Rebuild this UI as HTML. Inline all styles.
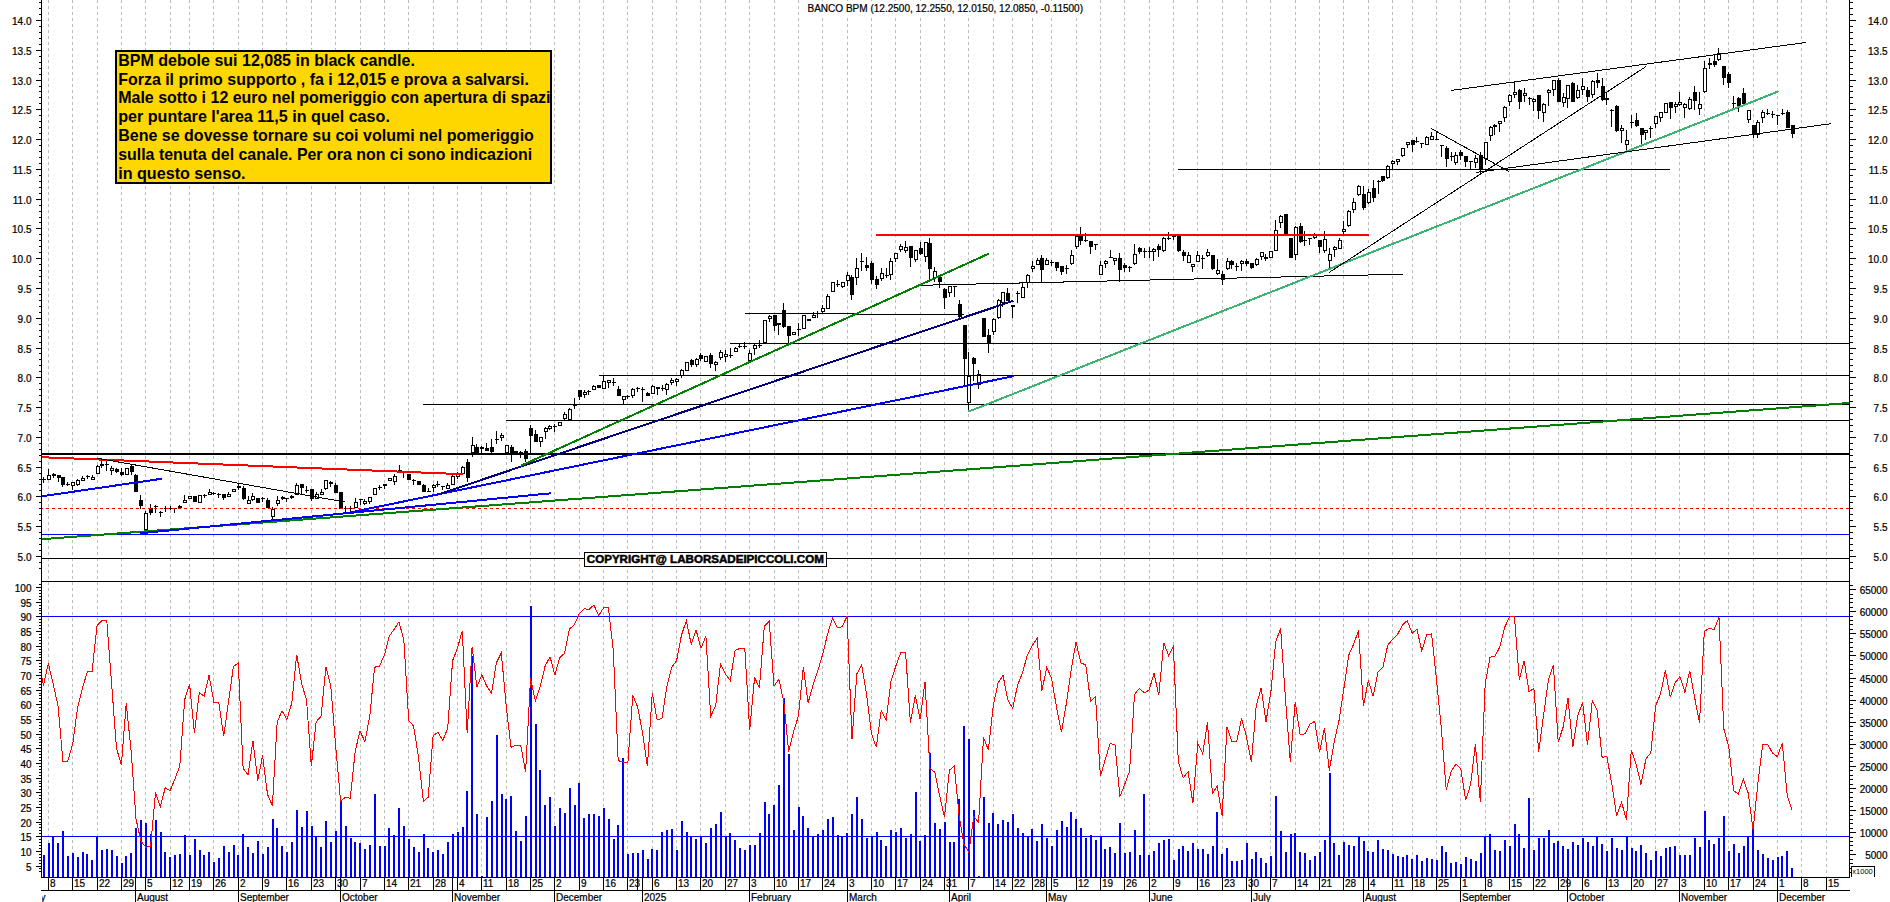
<!DOCTYPE html><html><head><meta charset="utf-8"><title>BANCO BPM</title><style>html,body{margin:0;padding:0;background:#fff}svg{display:block}text{font-family:"Liberation Sans",sans-serif;fill:#000}.s{stroke:#000;stroke-width:.22px}</style></head><body>
<svg width="1890" height="902" viewBox="0 0 1890 902">
<rect width="1890" height="902" fill="#fff"/>
<g shape-rendering="crispEdges">
<path d="M48.5 0V877M72.5 0V877M97.5 0V877M121.5 0V877M145.5 0V877M170.5 0V877M189.5 0V877M213.5 0V877M238.5 0V877M262.5 0V877M286.5 0V877M311.5 0V877M335.5 0V877M360.5 0V877M384.5 0V877M408.5 0V877M433.5 0V877M457.5 0V877M481.5 0V877M506.5 0V877M530.5 0V877M554.5 0V877M579.5 0V877M603.5 0V877M627.5 0V877M652.5 0V877M676.5 0V877M700.5 0V877M725.5 0V877M749.5 0V877M774.5 0V877M798.5 0V877M822.5 0V877M847.5 0V877M871.5 0V877M895.5 0V877M920.5 0V877M944.5 0V877M968.5 0V877M993.5 0V877M1012.5 0V877M1032.5 0V877M1051.5 0V877M1076.5 0V877M1100.5 0V877M1124.5 0V877M1149.5 0V877M1173.5 0V877M1197.5 0V877M1222.5 0V877M1246.5 0V877M1270.5 0V877M1295.5 0V877M1319.5 0V877M1343.5 0V877M1368.5 0V877M1392.5 0V877M1412.5 0V877M1436.5 0V877M1460.5 0V877M1485.5 0V877M1509.5 0V877M1533.5 0V877M1558.5 0V877M1582.5 0V877M1606.5 0V877M1631.5 0V877M1655.5 0V877M1679.5 0V877M1704.5 0V877M1728.5 0V877M1753.5 0V877M1777.5 0V877M1801.5 0V877M1826.5 0V877" stroke="#bcbcbc" stroke-width="1" stroke-dasharray="3 3" fill="none"/>
<line x1="41" y1="616.5" x2="1849" y2="616.5" stroke="#0000ff" stroke-width="1"/>
<line x1="41" y1="836.5" x2="1849" y2="836.5" stroke="#0000ff" stroke-width="1"/>
<path d="M43 877V855.1h2V877zM48 877V843.3h2V877zM52 877V836.7h2V877zM57 877V843.3h2V877zM62 877V831.1h2V877zM67 877V855.6h2V877zM72 877V853.3h2V877zM77 877V856.7h2V877zM82 877V851.6h2V877zM86 877V854.4h2V877zM91 877V860.0h2V877zM96 877V837.1h2V877zM101 877V850.4h2V877zM106 877V849.3h2V877zM111 877V850.4h2V877zM116 877V856.2h2V877zM121 877V862.9h2V877zM125 877V856.0h2V877zM130 877V853.3h2V877zM135 877V828.2h2V877zM140 877V820.0h2V877zM145 877V822.9h2V877zM150 877V834.4h2V877zM155 877V819.6h2V877zM160 877V831.6h2V877zM164 877V852.2h2V877zM169 877V856.7h2V877zM174 877V855.1h2V877zM179 877V854.0h2V877zM184 877V834.9h2V877zM189 877V855.1h2V877zM194 877V839.3h2V877zM199 877V850.4h2V877zM203 877V854.9h2V877zM208 877V852.2h2V877zM213 877V862.2h2V877zM218 877V858.2h2V877zM223 877V846.0h2V877zM228 877V852.2h2V877zM233 877V845.1h2V877zM237 877V855.1h2V877zM242 877V834.0h2V877zM247 877V847.3h2V877zM252 877V853.3h2V877zM257 877V841.1h2V877zM262 877V854.0h2V877zM267 877V847.3h2V877zM272 877V819.3h2V877zM276 877V828.2h2V877zM281 877V846.2h2V877zM286 877V851.8h2V877zM291 877V842.2h2V877zM296 877V810.4h2V877zM301 877V827.1h2V877zM306 877V811.1h2V877zM311 877V826.2h2V877zM315 877V836.7h2V877zM320 877V847.1h2V877zM325 877V821.1h2V877zM330 877V842.2h2V877zM335 877V831.1h2V877zM340 877V801.1h2V877zM345 877V826.2h2V877zM350 877V838.4h2V877zM354 877V842.2h2V877zM359 877V843.3h2V877zM364 877V848.9h2V877zM369 877V845.1h2V877zM374 877V794.0h2V877zM379 877V846.0h2V877zM384 877V846.0h2V877zM388 877V828.2h2V877zM393 877V835.1h2V877zM398 877V808.2h2V877zM403 877V826.2h2V877zM408 877V839.3h2V877zM413 877V847.3h2V877zM418 877V851.6h2V877zM423 877V834.0h2V877zM427 877V848.2h2V877zM432 877V851.6h2V877zM437 877V850.4h2V877zM442 877V854.0h2V877zM447 877V842.2h2V877zM452 877V834.0h2V877zM457 877V832.2h2V877zM462 877V826.7h2V877zM466 877V791.1h2V877zM471 877V656.0h2V877zM476 877V814.0h2V877zM481 877V876.2h2V877zM486 877V817.1h2V877zM491 877V801.1h2V877zM496 877V734.9h2V877zM501 877V794.0h2V877zM505 877V798.9h2V877zM510 877V796.0h2V877zM515 877V831.1h2V877zM520 877V840.7h2V877zM525 877V815.6h2V877zM530 877V605.8h2V877zM535 877V724.0h2V877zM539 877V770.0h2V877zM544 877V805.1h2V877zM549 877V797.1h2V877zM554 877V826.2h2V877zM559 877V808.2h2V877zM564 877V813.3h2V877zM569 877V788.2h2V877zM574 877V805.1h2V877zM578 877V783.3h2V877zM583 877V817.8h2V877zM588 877V814.0h2V877zM593 877V814.0h2V877zM598 877V816.0h2V877zM603 877V807.8h2V877zM608 877V819.3h2V877zM613 877V838.9h2V877zM617 877V825.1h2V877zM622 877V758.2h2V877zM627 877V853.8h2V877zM632 877V853.3h2V877zM637 877V853.3h2V877zM642 877V850.4h2V877zM647 877V859.3h2V877zM651 877V849.3h2V877zM656 877V850.0h2V877zM661 877V832.2h2V877zM666 877V830.0h2V877zM671 877V828.9h2V877zM676 877V850.0h2V877zM681 877V821.1h2V877zM686 877V832.2h2V877zM690 877V837.1h2V877zM695 877V839.3h2V877zM700 877V836.7h2V877zM705 877V843.3h2V877zM710 877V828.2h2V877zM715 877V824.0h2V877zM720 877V812.2h2V877zM725 877V836.0h2V877zM729 877V833.3h2V877zM734 877V840.0h2V877zM739 877V848.2h2V877zM744 877V850.0h2V877zM749 877V845.1h2V877zM754 877V845.1h2V877zM759 877V832.9h2V877zM764 877V801.8h2V877zM768 877V814.0h2V877zM773 877V805.1h2V877zM778 877V784.9h2V877zM783 877V698.2h2V877zM788 877V754.0h2V877zM793 877V830.0h2V877zM798 877V807.1h2V877zM802 877V816.2h2V877zM807 877V828.2h2V877zM812 877V836.7h2V877zM817 877V834.0h2V877zM822 877V830.0h2V877zM827 877V818.9h2V877zM832 877V817.1h2V877zM837 877V834.9h2V877zM841 877V836.2h2V877zM846 877V832.9h2V877zM851 877V814.0h2V877zM856 877V797.1h2V877zM861 877V818.9h2V877zM866 877V838.2h2V877zM871 877V836.2h2V877zM876 877V832.2h2V877zM880 877V840.4h2V877zM885 877V846.2h2V877zM890 877V830.4h2V877zM895 877V832.2h2V877zM900 877V828.2h2V877zM905 877V837.8h2V877zM910 877V834.0h2V877zM915 877V791.8h2V877zM919 877V841.1h2V877zM924 877V834.9h2V877zM929 877V753.3h2V877zM934 877V822.9h2V877zM939 877V828.9h2V877zM944 877V821.8h2V877zM949 877V842.2h2V877zM953 877V842.2h2V877zM958 877V799.3h2V877zM963 877V726.2h2V877zM968 877V738.9h2V877zM973 877V810.0h2V877zM978 877V876.2h2V877zM983 877V797.1h2V877zM988 877V822.9h2V877zM992 877V812.9h2V877zM997 877V824.0h2V877zM1002 877V820.0h2V877zM1007 877V821.8h2V877zM1012 877V814.0h2V877zM1017 877V828.2h2V877zM1022 877V832.7h2V877zM1027 877V836.2h2V877zM1031 877V828.9h2V877zM1036 877V841.1h2V877zM1041 877V824.0h2V877zM1046 877V837.8h2V877zM1051 877V846.0h2V877zM1056 877V830.0h2V877zM1061 877V821.1h2V877zM1066 877V827.1h2V877zM1070 877V811.8h2V877zM1075 877V818.9h2V877zM1080 877V828.2h2V877zM1085 877V837.8h2V877zM1090 877V834.9h2V877zM1095 877V840.0h2V877zM1100 877V836.2h2V877zM1104 877V849.3h2V877zM1109 877V846.7h2V877zM1114 877V853.3h2V877zM1119 877V823.3h2V877zM1124 877V853.3h2V877zM1129 877V852.2h2V877zM1134 877V830.0h2V877zM1139 877V854.9h2V877zM1143 877V794.0h2V877zM1148 877V854.9h2V877zM1153 877V851.1h2V877zM1158 877V842.9h2V877zM1163 877V840.0h2V877zM1168 877V838.9h2V877zM1173 877V860.0h2V877zM1178 877V849.3h2V877zM1182 877V846.0h2V877zM1187 877V851.1h2V877zM1192 877V843.3h2V877zM1197 877V849.3h2V877zM1202 877V849.3h2V877zM1207 877V854.4h2V877zM1212 877V846.0h2V877zM1216 877V811.8h2V877zM1221 877V854.0h2V877zM1226 877V847.8h2V877zM1231 877V861.1h2V877zM1236 877V861.1h2V877zM1241 877V860.0h2V877zM1246 877V843.3h2V877zM1251 877V858.9h2V877zM1255 877V852.2h2V877zM1260 877V858.2h2V877zM1265 877V862.7h2V877zM1270 877V855.6h2V877zM1275 877V796.0h2V877zM1280 877V831.1h2V877zM1285 877V851.6h2V877zM1290 877V834.4h2V877zM1294 877V833.3h2V877zM1299 877V852.2h2V877zM1304 877V853.3h2V877zM1309 877V860.0h2V877zM1314 877V856.2h2V877zM1319 877V852.2h2V877zM1324 877V840.0h2V877zM1329 877V772.9h2V877zM1333 877V843.3h2V877zM1338 877V855.1h2V877zM1343 877V842.2h2V877zM1348 877V845.1h2V877zM1353 877V846.2h2V877zM1358 877V837.1h2V877zM1363 877V841.1h2V877zM1367 877V851.1h2V877zM1372 877V852.2h2V877zM1377 877V840.0h2V877zM1382 877V848.9h2V877zM1387 877V850.4h2V877zM1392 877V854.0h2V877zM1397 877V856.0h2V877zM1402 877V856.7h2V877zM1406 877V855.1h2V877zM1411 877V858.9h2V877zM1416 877V855.1h2V877zM1421 877V861.1h2V877zM1426 877V858.2h2V877zM1431 877V859.3h2V877zM1436 877V860.0h2V877zM1441 877V846.0h2V877zM1445 877V852.2h2V877zM1450 877V863.3h2V877zM1455 877V862.2h2V877zM1460 877V864.0h2V877zM1465 877V857.1h2V877zM1470 877V858.9h2V877zM1475 877V861.1h2V877zM1480 877V852.9h2V877zM1484 877V836.2h2V877zM1489 877V834.0h2V877zM1494 877V850.0h2V877zM1499 877V851.1h2V877zM1504 877V840.0h2V877zM1509 877V846.0h2V877zM1514 877V824.4h2V877zM1518 877V834.4h2V877zM1523 877V848.2h2V877zM1528 877V797.8h2V877zM1533 877V850.0h2V877zM1538 877V838.2h2V877zM1543 877V838.2h2V877zM1548 877V830.0h2V877zM1553 877V842.9h2V877zM1557 877V841.1h2V877zM1562 877V846.0h2V877zM1567 877V848.9h2V877zM1572 877V842.2h2V877zM1577 877V845.1h2V877zM1582 877V838.2h2V877zM1587 877V842.2h2V877zM1592 877V846.0h2V877zM1596 877V836.2h2V877zM1601 877V844.4h2V877zM1606 877V851.1h2V877zM1611 877V838.2h2V877zM1616 877V847.8h2V877zM1621 877V850.0h2V877zM1626 877V836.2h2V877zM1631 877V847.8h2V877zM1635 877V851.1h2V877zM1640 877V845.1h2V877zM1645 877V852.9h2V877zM1650 877V860.0h2V877zM1655 877V851.1h2V877zM1660 877V856.2h2V877zM1665 877V848.2h2V877zM1669 877V847.1h2V877zM1674 877V846.0h2V877zM1679 877V855.2h2V877zM1684 877V854.8h2V877zM1689 877V854.8h2V877zM1694 877V837.9h2V877zM1699 877V846.8h2V877zM1704 877V810.9h2V877zM1708 877V839.7h2V877zM1713 877V844.1h2V877zM1718 877V837.5h2V877zM1723 877V816.0h2V877zM1728 877V850.8h2V877zM1733 877V844.1h2V877zM1738 877V853.0h2V877zM1743 877V845.9h2V877zM1747 877V836.4h2V877zM1752 877V827.5h2V877zM1757 877V849.7h2V877zM1762 877V854.1h2V877zM1767 877V857.9h2V877zM1772 877V860.1h2V877zM1777 877V857.0h2V877zM1781 877V856.3h2V877zM1786 877V851.2h2V877zM1791 877V867.8h2V877z" fill="#0000ff"/>
</g>
<polyline points="42.3,677.7 43.4,685.7 48.3,663.4 53.2,683.9 58.1,706.1 62.9,761.2 67.8,761.2 72.7,743.9 77.5,708.3 82.4,688.3 87.3,671.7 92.1,671.2 97.0,625.7 101.9,620.6 106.8,620.6 111.6,683.9 116.5,748.3 121.4,765.0 126.2,703.4 131.1,750.6 136.0,818.9 140.9,841.1 145.7,847.1 150.6,846.7 155.5,792.2 160.3,807.1 165.2,787.8 170.1,790.7 174.9,778.9 179.8,766.2 184.7,699.4 189.6,684.3 194.4,733.2 199.3,692.8 204.2,696.1 209.0,675.4 213.9,702.1 218.8,702.8 223.7,736.1 228.5,701.7 233.4,666.6 238.3,662.8 243.1,768.3 248.0,775.0 252.9,740.6 257.8,780.6 262.6,755.4 267.5,794.4 272.4,805.6 277.2,721.7 282.1,711.0 287.0,719.4 291.8,702.8 296.7,654.6 301.6,683.9 306.5,699.4 311.3,766.1 316.2,721.7 321.1,716.1 325.9,666.6 330.8,686.1 335.7,746.1 340.6,801.1 345.4,797.3 350.3,798.2 355.2,751.1 360.0,731.0 364.9,741.7 369.8,716.1 374.6,667.2 379.5,666.1 384.4,655.0 389.3,636.1 394.1,629.4 399.0,621.7 403.9,640.6 408.7,720.6 413.6,726.1 418.5,757.2 423.4,801.1 428.2,797.3 433.1,735.6 438.0,732.3 442.8,740.6 447.7,728.3 452.6,660.6 457.4,648.3 462.3,630.6 467.2,733.2 472.1,646.6 476.9,687.2 481.8,674.6 486.7,686.1 491.5,693.2 496.4,662.8 501.3,652.8 506.2,706.1 511.0,747.2 515.9,745.0 520.8,745.7 525.6,771.7 530.5,678.3 535.4,701.2 540.3,686.1 545.1,666.1 550.0,656.8 554.9,675.0 559.7,657.7 564.6,653.2 569.5,628.8 574.3,625.0 579.2,613.9 584.1,608.8 589.0,609.4 593.8,605.0 598.7,615.4 603.6,607.9 608.4,607.9 613.3,650.6 618.2,760.6 623.1,762.1 627.9,762.1 632.8,695.4 637.7,707.2 642.5,732.8 647.4,766.1 652.3,693.2 657.1,719.9 662.0,718.3 666.9,686.1 671.8,667.2 676.6,660.6 681.5,635.0 686.4,620.6 691.2,644.3 696.1,630.1 701.0,648.3 705.9,636.1 710.7,716.1 715.6,706.1 720.5,664.3 725.3,673.9 730.2,680.6 735.1,650.6 740.0,648.3 744.8,648.3 749.7,730.1 754.6,677.2 759.4,688.3 764.3,626.1 769.2,621.2 774.0,686.1 778.9,679.4 783.8,701.7 788.7,751.7 793.5,731.7 798.4,716.1 803.3,667.2 808.1,702.8 813.0,685.0 817.9,670.6 822.8,653.9 827.6,633.9 832.5,618.3 837.4,627.9 842.2,626.6 847.1,616.1 852.0,739.4 856.8,673.9 861.7,665.0 866.6,695.0 871.5,733.9 876.3,747.2 881.2,710.6 886.1,719.9 890.9,681.7 895.8,666.1 900.7,652.8 905.6,652.8 910.4,722.8 915.3,695.4 920.2,719.4 925.0,681.7 929.9,768.3 934.8,772.2 939.6,795.6 944.5,817.3 949.4,770.0 954.3,766.2 959.1,815.6 964.0,844.4 968.9,852.2 973.7,816.7 978.6,822.2 983.5,737.3 988.4,750.0 993.2,706.1 998.1,682.8 1003.0,675.4 1007.8,699.9 1012.7,708.3 1017.6,685.0 1022.5,672.8 1027.3,655.0 1032.2,645.7 1037.1,638.3 1041.9,690.6 1046.8,667.2 1051.7,679.0 1056.5,707.2 1061.4,732.3 1066.3,703.9 1071.2,669.4 1076.0,642.1 1080.9,662.8 1085.8,665.0 1090.6,701.7 1095.5,696.8 1100.4,776.1 1105.3,759.4 1110.1,743.4 1115.0,745.0 1119.9,796.7 1124.7,784.4 1129.6,771.1 1134.5,694.6 1139.3,688.3 1144.2,692.8 1149.1,690.1 1154.0,673.2 1158.8,695.4 1163.7,642.8 1168.6,655.4 1173.4,646.6 1178.3,761.7 1183.2,777.7 1188.1,771.7 1192.9,803.3 1197.8,743.3 1202.7,753.8 1207.5,722.2 1212.4,793.3 1217.3,786.2 1222.1,815.6 1227.0,727.1 1231.9,741.2 1236.8,741.2 1241.6,718.3 1246.5,737.2 1251.4,762.1 1256.2,706.1 1261.1,687.9 1266.0,721.7 1270.9,691.7 1275.7,642.1 1280.6,628.3 1285.5,699.4 1290.3,762.1 1295.2,702.1 1300.1,734.3 1305.0,733.9 1309.8,724.3 1314.7,721.2 1319.6,752.3 1324.4,727.7 1329.3,770.6 1334.2,741.7 1339.0,720.6 1343.9,688.3 1348.8,655.0 1353.7,643.9 1358.5,630.6 1363.4,706.1 1368.3,680.6 1373.1,696.1 1378.0,671.7 1382.9,667.2 1387.8,645.0 1392.6,639.4 1397.5,634.6 1402.4,625.0 1407.2,620.6 1412.1,633.2 1417.0,629.4 1421.8,651.0 1426.7,634.6 1431.6,633.9 1436.5,679.4 1441.3,728.3 1446.2,789.6 1451.1,771.6 1455.9,764.0 1460.8,768.9 1465.7,800.4 1470.6,784.4 1475.4,744.4 1480.3,801.8 1485.2,683.9 1490.0,657.2 1494.9,656.1 1499.8,647.2 1504.7,627.2 1509.5,617.2 1514.4,616.1 1519.3,679.9 1524.1,660.6 1529.0,691.7 1533.9,688.3 1538.7,751.7 1543.6,715.0 1548.5,679.4 1553.4,665.0 1558.2,742.1 1563.1,727.2 1568.0,698.3 1572.8,747.2 1577.7,716.1 1582.6,702.1 1587.5,745.0 1592.3,700.6 1597.2,710.6 1602.1,757.2 1606.9,756.8 1611.8,784.0 1616.7,816.0 1621.5,802.2 1626.4,819.6 1631.3,750.0 1636.2,764.4 1641.0,784.4 1645.9,758.9 1650.8,752.9 1655.6,706.1 1660.5,693.9 1665.4,670.6 1670.3,697.2 1675.1,682.8 1680.0,676.6 1684.9,692.1 1689.7,670.8 1694.6,697.4 1699.5,722.5 1704.3,631.6 1709.2,628.3 1714.1,629.4 1719.0,617.2 1723.8,728.8 1728.7,746.6 1733.6,790.5 1738.4,794.2 1743.3,779.2 1748.2,793.1 1753.1,829.7 1757.9,783.1 1762.8,744.3 1767.7,744.3 1772.5,753.2 1777.4,756.5 1782.3,743.2 1787.2,795.3 1792.0,810.2" fill="none" stroke="#ff0000" stroke-width="1" shape-rendering="crispEdges"/>
<g shape-rendering="crispEdges">
<path d="M43 477h1V483h-1zM48 469h1V480h-1zM53 473h1V478h-1zM58 475h1V482h-1zM62 477h1V487h-1zM67 482h1V486h-1zM72 482h1V490h-1zM77 479h1V486h-1zM82 476h1V481h-1zM87 475h1V479h-1zM92 475h1V480h-1zM97 465h1V474h-1zM101 459h1V468h-1zM106 461h1V471h-1zM111 466h1V475h-1zM116 468h1V473h-1zM121 468h1V476h-1zM126 468h1V475h-1zM131 465h1V475h-1zM135 474h1V492h-1zM140 495h1V509h-1zM145 511h1V530h-1zM150 504h1V515h-1zM155 505h1V513h-1zM160 511h1V517h-1zM165 506h1V512h-1zM170 506h1V510h-1zM174 508h1V513h-1zM179 505h1V509h-1zM184 495h1V503h-1zM189 496h1V499h-1zM194 496h1V502h-1zM199 495h1V503h-1zM204 494h1V498h-1zM209 489h1V495h-1zM213 492h1V495h-1zM218 493h1V498h-1zM223 494h1V500h-1zM228 492h1V497h-1zM233 489h1V492h-1zM238 483h1V490h-1zM243 486h1V500h-1zM248 496h1V504h-1zM252 493h1V501h-1zM257 498h1V503h-1zM262 497h1V502h-1zM267 498h1V508h-1zM272 507h1V519h-1zM277 496h1V506h-1zM282 496h1V500h-1zM286 498h1V502h-1zM291 495h1V499h-1zM296 483h1V495h-1zM301 484h1V494h-1zM306 486h1V493h-1zM311 489h1V501h-1zM316 492h1V499h-1zM321 489h1V495h-1zM325 480h1V490h-1zM330 481h1V487h-1zM335 483h1V493h-1zM340 492h1V509h-1zM345 506h1V512h-1zM350 506h1V511h-1zM355 498h1V508h-1zM360 499h1V505h-1zM364 499h1V505h-1zM369 497h1V504h-1zM374 488h1V495h-1zM379 485h1V490h-1zM384 484h1V489h-1zM389 478h1V481h-1zM394 474h1V485h-1zM399 465h1V473h-1zM403 472h1V478h-1zM408 474h1V480h-1zM413 479h1V485h-1zM418 481h1V485h-1zM423 484h1V492h-1zM428 488h1V492h-1zM433 484h1V492h-1zM437 481h1V487h-1zM442 486h1V490h-1zM447 483h1V489h-1zM452 475h1V485h-1zM457 472h1V479h-1zM462 466h1V474h-1zM467 459h1V482h-1zM472 437h1V457h-1zM476 444h1V453h-1zM481 446h1V453h-1zM486 443h1V451h-1zM491 439h1V453h-1zM496 431h1V444h-1zM501 433h1V441h-1zM506 445h1V453h-1zM511 445h1V462h-1zM515 451h1V455h-1zM520 451h1V458h-1zM525 449h1V462h-1zM530 425h1V453h-1zM535 430h1V442h-1zM540 437h1V447h-1zM545 427h1V439h-1zM549 425h1V430h-1zM554 424h1V432h-1zM559 422h1V426h-1zM564 412h1V420h-1zM569 408h1V420h-1zM574 398h1V409h-1zM579 390h1V400h-1zM584 390h1V398h-1zM588 390h1V395h-1zM593 385h1V390h-1zM598 385h1V388h-1zM603 375h1V389h-1zM608 380h1V388h-1zM613 378h1V386h-1zM618 386h1V396h-1zM623 396h1V404h-1zM627 395h1V399h-1zM632 388h1V398h-1zM637 387h1V392h-1zM642 387h1V402h-1zM647 392h1V396h-1zM652 385h1V394h-1zM657 387h1V395h-1zM662 385h1V391h-1zM666 383h1V395h-1zM671 378h1V385h-1zM676 378h1V386h-1zM681 369h1V378h-1zM686 362h1V371h-1zM691 359h1V367h-1zM696 358h1V367h-1zM700 353h1V361h-1zM705 356h1V362h-1zM710 353h1V368h-1zM715 361h1V371h-1zM720 350h1V360h-1zM725 350h1V362h-1zM730 348h1V358h-1zM735 347h1V352h-1zM739 344h1V348h-1zM744 342h1V349h-1zM749 350h1V361h-1zM754 343h1V355h-1zM759 340h1V348h-1zM764 320h1V343h-1zM769 315h1V322h-1zM774 315h1V331h-1zM778 323h1V335h-1zM783 303h1V328h-1zM788 326h1V343h-1zM793 332h1V335h-1zM798 323h1V336h-1zM803 315h1V329h-1zM808 319h1V321h-1zM813 312h1V318h-1zM817 311h1V318h-1zM822 305h1V313h-1zM827 294h1V309h-1zM832 282h1V292h-1zM837 280h1V287h-1zM842 282h1V288h-1zM847 272h1V286h-1zM851 275h1V300h-1zM856 258h1V285h-1zM861 253h1V271h-1zM866 257h1V271h-1zM871 261h1V284h-1zM876 276h1V289h-1zM881 268h1V281h-1zM886 268h1V278h-1zM890 258h1V280h-1zM895 253h1V262h-1zM900 244h1V252h-1zM905 241h1V253h-1zM910 246h1V267h-1zM915 250h1V262h-1zM920 242h1V255h-1zM925 242h1V262h-1zM929 238h1V280h-1zM934 267h1V282h-1zM939 276h1V288h-1zM944 288h1V309h-1zM949 286h1V297h-1zM954 286h1V297h-1zM959 300h1V319h-1zM964 325h1V386h-1zM968 352h1V410h-1zM973 357h1V381h-1zM978 370h1V389h-1zM983 318h1V337h-1zM988 329h1V353h-1zM993 318h1V335h-1zM998 299h1V319h-1zM1002 292h1V307h-1zM1007 288h1V301h-1zM1012 305h1V318h-1zM1017 291h1V303h-1zM1022 282h1V298h-1zM1027 274h1V288h-1zM1032 261h1V272h-1zM1037 258h1V265h-1zM1041 255h1V282h-1zM1046 258h1V265h-1zM1051 260h1V266h-1zM1056 262h1V271h-1zM1061 266h1V275h-1zM1066 265h1V274h-1zM1071 250h1V265h-1zM1076 236h1V249h-1zM1080 227h1V245h-1zM1085 233h1V242h-1zM1090 241h1V254h-1zM1095 244h1V250h-1zM1100 261h1V275h-1zM1105 260h1V268h-1zM1110 250h1V258h-1zM1114 258h1V265h-1zM1119 253h1V282h-1zM1124 263h1V272h-1zM1129 266h1V272h-1zM1134 244h1V265h-1zM1139 247h1V254h-1zM1144 248h1V258h-1zM1149 247h1V258h-1zM1153 248h1V261h-1zM1158 244h1V257h-1zM1163 237h1V252h-1zM1168 232h1V240h-1zM1173 235h1V240h-1zM1178 235h1V252h-1zM1183 250h1V261h-1zM1188 252h1V263h-1zM1192 264h1V272h-1zM1197 251h1V262h-1zM1202 255h1V269h-1zM1207 249h1V257h-1zM1212 255h1V270h-1zM1217 259h1V275h-1zM1222 271h1V285h-1zM1227 258h1V270h-1zM1231 260h1V269h-1zM1236 263h1V271h-1zM1241 260h1V271h-1zM1246 259h1V266h-1zM1251 263h1V269h-1zM1256 258h1V266h-1zM1261 252h1V260h-1zM1265 254h1V261h-1zM1270 251h1V258h-1zM1275 220h1V251h-1zM1280 215h1V228h-1zM1285 214h1V235h-1zM1290 238h1V258h-1zM1295 226h1V260h-1zM1300 223h1V243h-1zM1304 231h1V246h-1zM1309 238h1V245h-1zM1314 233h1V239h-1zM1319 240h1V253h-1zM1324 231h1V253h-1zM1329 248h1V268h-1zM1334 246h1V257h-1zM1339 238h1V249h-1zM1343 221h1V234h-1zM1348 210h1V227h-1zM1353 198h1V213h-1zM1358 185h1V196h-1zM1363 186h1V210h-1zM1368 189h1V204h-1zM1373 180h1V202h-1zM1378 180h1V194h-1zM1382 176h1V182h-1zM1387 165h1V179h-1zM1392 160h1V169h-1zM1397 159h1V165h-1zM1402 148h1V157h-1zM1407 142h1V148h-1zM1412 140h1V152h-1zM1416 137h1V143h-1zM1421 143h1V148h-1zM1426 136h1V145h-1zM1431 132h1V140h-1zM1436 132h1V140h-1zM1441 145h1V157h-1zM1446 146h1V167h-1zM1451 152h1V161h-1zM1455 152h1V165h-1zM1460 150h1V160h-1zM1465 156h1V167h-1zM1470 161h1V170h-1zM1475 155h1V168h-1zM1480 152h1V174h-1zM1485 142h1V165h-1zM1490 126h1V141h-1zM1494 124h1V135h-1zM1499 121h1V132h-1zM1504 106h1V122h-1zM1509 94h1V106h-1zM1514 82h1V98h-1zM1519 89h1V109h-1zM1524 88h1V102h-1zM1529 97h1V105h-1zM1533 98h1V111h-1zM1538 95h1V119h-1zM1543 103h1V122h-1zM1548 89h1V106h-1zM1553 80h1V96h-1zM1558 78h1V102h-1zM1563 93h1V107h-1zM1567 85h1V108h-1zM1572 82h1V102h-1zM1577 85h1V99h-1zM1582 78h1V95h-1zM1587 87h1V102h-1zM1592 80h1V98h-1zM1597 73h1V88h-1zM1602 78h1V101h-1zM1606 92h1V105h-1zM1611 109h1V127h-1zM1616 105h1V132h-1zM1621 125h1V143h-1zM1626 130h1V150h-1zM1631 115h1V128h-1zM1636 113h1V127h-1zM1641 128h1V145h-1zM1645 130h1V140h-1zM1650 126h1V138h-1zM1655 116h1V128h-1zM1660 112h1V122h-1zM1665 103h1V113h-1zM1670 102h1V119h-1zM1675 102h1V113h-1zM1679 92h1V106h-1zM1684 103h1V118h-1zM1689 97h1V110h-1zM1694 86h1V110h-1zM1699 92h1V115h-1zM1704 61h1V93h-1zM1709 58h1V69h-1zM1714 54h1V67h-1zM1718 48h1V61h-1zM1723 66h1V85h-1zM1728 72h1V88h-1zM1733 96h1V110h-1zM1738 97h1V112h-1zM1743 88h1V104h-1zM1748 110h1V123h-1zM1753 125h1V138h-1zM1757 120h1V138h-1zM1762 110h1V123h-1zM1767 109h1V115h-1zM1772 111h1V118h-1zM1777 115h1V125h-1zM1782 109h1V115h-1zM1787 110h1V128h-1zM1792 125h1V138h-1z" fill="#000"/>
<path d="M47.5 475.5H50.5V479.5H47.5zM71.5 482.5H74.5V485.5H71.5zM76.5 480.5H79.5V484.5H76.5zM81.5 478.5H84.5V480.5H81.5zM91.5 477.5H94.5V479.5H91.5zM96.5 466.5H99.5V473.5H96.5zM110.5 468.5H113.5V470.5H110.5zM125.5 468.5H128.5V474.5H125.5zM144.5 513.5H147.5V529.5H144.5zM183.5 500.5H186.5V502.5H183.5zM188.5 496.5H191.5V498.5H188.5zM198.5 495.5H201.5V502.5H198.5zM208.5 492.5H211.5V494.5H208.5zM227.5 494.5H230.5V496.5H227.5zM232.5 489.5H235.5V491.5H232.5zM247.5 500.5H250.5V503.5H247.5zM251.5 496.5H254.5V499.5H251.5zM271.5 509.5H274.5V516.5H271.5zM276.5 500.5H279.5V503.5H276.5zM295.5 485.5H298.5V494.5H295.5zM315.5 494.5H318.5V498.5H315.5zM320.5 492.5H323.5V494.5H320.5zM324.5 480.5H327.5V488.5H324.5zM354.5 502.5H357.5V507.5H354.5zM363.5 501.5H366.5V503.5H363.5zM368.5 497.5H371.5V501.5H368.5zM373.5 488.5H376.5V494.5H373.5zM388.5 478.5H391.5V480.5H388.5zM393.5 476.5H396.5V481.5H393.5zM398.5 470.5H401.5V472.5H398.5zM432.5 485.5H435.5V487.5H432.5zM446.5 485.5H449.5V488.5H446.5zM451.5 476.5H454.5V484.5H451.5zM456.5 474.5H459.5V476.5H456.5zM461.5 467.5H464.5V473.5H461.5zM471.5 445.5H474.5V452.5H471.5zM500.5 435.5H503.5V437.5H500.5zM505.5 445.5H508.5V452.5H505.5zM539.5 437.5H542.5V441.5H539.5zM544.5 428.5H547.5V431.5H544.5zM548.5 426.5H551.5V428.5H548.5zM558.5 422.5H561.5V425.5H558.5zM563.5 414.5H566.5V418.5H563.5zM568.5 409.5H571.5V419.5H568.5zM583.5 392.5H586.5V394.5H583.5zM592.5 386.5H595.5V389.5H592.5zM602.5 381.5H605.5V388.5H602.5zM607.5 380.5H610.5V382.5H607.5zM622.5 396.5H625.5V399.5H622.5zM631.5 389.5H634.5V395.5H631.5zM651.5 386.5H654.5V393.5H651.5zM665.5 384.5H668.5V389.5H665.5zM670.5 380.5H673.5V382.5H670.5zM675.5 379.5H678.5V381.5H675.5zM680.5 370.5H683.5V375.5H680.5zM685.5 362.5H688.5V370.5H685.5zM695.5 359.5H698.5V364.5H695.5zM704.5 356.5H707.5V361.5H704.5zM714.5 362.5H717.5V364.5H714.5zM719.5 352.5H722.5V357.5H719.5zM724.5 354.5H727.5V356.5H724.5zM734.5 348.5H737.5V351.5H734.5zM748.5 353.5H751.5V360.5H748.5zM753.5 345.5H756.5V348.5H753.5zM763.5 320.5H766.5V342.5H763.5zM768.5 316.5H771.5V318.5H768.5zM792.5 332.5H795.5V334.5H792.5zM802.5 315.5H805.5V328.5H802.5zM812.5 315.5H815.5V317.5H812.5zM821.5 308.5H824.5V311.5H821.5zM826.5 296.5H829.5V308.5H826.5zM831.5 282.5H834.5V291.5H831.5zM841.5 282.5H844.5V286.5H841.5zM846.5 275.5H849.5V280.5H846.5zM855.5 268.5H858.5V277.5H855.5zM880.5 273.5H883.5V278.5H880.5zM889.5 261.5H892.5V274.5H889.5zM894.5 253.5H897.5V258.5H894.5zM899.5 246.5H902.5V249.5H899.5zM904.5 247.5H907.5V250.5H904.5zM914.5 250.5H917.5V259.5H914.5zM924.5 242.5H927.5V256.5H924.5zM933.5 271.5H936.5V277.5H933.5zM948.5 286.5H951.5V292.5H948.5zM967.5 376.5H970.5V402.5H967.5zM977.5 374.5H980.5V384.5H977.5zM992.5 319.5H995.5V331.5H992.5zM997.5 300.5H1000.5V317.5H997.5zM1001.5 292.5H1004.5V302.5H1001.5zM1021.5 287.5H1024.5V297.5H1021.5zM1026.5 275.5H1029.5V282.5H1026.5zM1031.5 266.5H1034.5V268.5H1031.5zM1036.5 260.5H1039.5V264.5H1036.5zM1045.5 260.5H1048.5V264.5H1045.5zM1070.5 255.5H1073.5V263.5H1070.5zM1075.5 236.5H1078.5V246.5H1075.5zM1099.5 265.5H1102.5V274.5H1099.5zM1104.5 261.5H1107.5V263.5H1104.5zM1113.5 258.5H1116.5V260.5H1113.5zM1133.5 254.5H1136.5V263.5H1133.5zM1152.5 249.5H1155.5V251.5H1152.5zM1162.5 238.5H1165.5V250.5H1162.5zM1187.5 255.5H1190.5V262.5H1187.5zM1191.5 264.5H1194.5V266.5H1191.5zM1196.5 255.5H1199.5V261.5H1196.5zM1206.5 252.5H1209.5V255.5H1206.5zM1216.5 270.5H1219.5V273.5H1216.5zM1226.5 261.5H1229.5V268.5H1226.5zM1240.5 261.5H1243.5V263.5H1240.5zM1255.5 259.5H1258.5V264.5H1255.5zM1260.5 252.5H1263.5V256.5H1260.5zM1269.5 251.5H1272.5V257.5H1269.5zM1274.5 230.5H1277.5V250.5H1274.5zM1279.5 216.5H1282.5V222.5H1279.5zM1294.5 227.5H1297.5V254.5H1294.5zM1313.5 235.5H1316.5V237.5H1313.5zM1323.5 239.5H1326.5V250.5H1323.5zM1328.5 254.5H1331.5V260.5H1328.5zM1333.5 247.5H1336.5V249.5H1333.5zM1338.5 240.5H1341.5V248.5H1338.5zM1342.5 229.5H1345.5V231.5H1342.5zM1347.5 211.5H1350.5V225.5H1347.5zM1352.5 202.5H1355.5V209.5H1352.5zM1357.5 186.5H1360.5V194.5H1357.5zM1367.5 192.5H1370.5V202.5H1367.5zM1386.5 166.5H1389.5V177.5H1386.5zM1391.5 161.5H1394.5V163.5H1391.5zM1396.5 159.5H1399.5V161.5H1396.5zM1401.5 148.5H1404.5V155.5H1401.5zM1406.5 142.5H1409.5V144.5H1406.5zM1425.5 137.5H1428.5V144.5H1425.5zM1430.5 136.5H1433.5V139.5H1430.5zM1454.5 155.5H1457.5V162.5H1454.5zM1474.5 158.5H1477.5V162.5H1474.5zM1484.5 142.5H1487.5V158.5H1484.5zM1489.5 127.5H1492.5V135.5H1489.5zM1498.5 121.5H1501.5V123.5H1498.5zM1503.5 107.5H1506.5V117.5H1503.5zM1508.5 95.5H1511.5V101.5H1508.5zM1513.5 92.5H1516.5V94.5H1513.5zM1523.5 93.5H1526.5V95.5H1523.5zM1532.5 99.5H1535.5V101.5H1532.5zM1542.5 104.5H1545.5V112.5H1542.5zM1547.5 90.5H1550.5V92.5H1547.5zM1552.5 80.5H1555.5V89.5H1552.5zM1562.5 97.5H1565.5V102.5H1562.5zM1566.5 85.5H1569.5V98.5H1566.5zM1576.5 90.5H1579.5V97.5H1576.5zM1581.5 86.5H1584.5V89.5H1581.5zM1591.5 81.5H1594.5V94.5H1591.5zM1620.5 128.5H1623.5V130.5H1620.5zM1625.5 140.5H1628.5V144.5H1625.5zM1644.5 130.5H1647.5V132.5H1644.5zM1654.5 116.5H1657.5V123.5H1654.5zM1659.5 112.5H1662.5V117.5H1659.5zM1664.5 103.5H1667.5V112.5H1664.5zM1674.5 104.5H1677.5V106.5H1674.5zM1678.5 102.5H1681.5V104.5H1678.5zM1683.5 104.5H1686.5V107.5H1683.5zM1688.5 99.5H1691.5V108.5H1688.5zM1698.5 104.5H1701.5V108.5H1698.5zM1703.5 68.5H1706.5V91.5H1703.5zM1717.5 53.5H1720.5V59.5H1717.5zM1747.5 110.5H1750.5V119.5H1747.5zM1756.5 122.5H1759.5V134.5H1756.5zM1761.5 112.5H1764.5V117.5H1761.5z" fill="#fff" stroke="#000" stroke-width="1"/>
<path d="M42 479H46V480H42zM52 474H56V476H52zM57 475H61V478H57zM61 477H65V485H61zM66 484H70V485H66zM86 476H90V477H86zM100 464H104V466H100zM105 464H109V465H105zM115 469H119V472H115zM120 472H124V475H120zM130 466H134V472H130zM134 475H138V492H134zM139 500H143V506H139zM149 508H153V513H149zM154 506H158V507H154zM159 512H163V513H159zM164 508H168V509H164zM169 508H173V509H169zM173 508H177V509H173zM178 506H182V508H178zM193 496H197V502H193zM203 495H207V496H203zM212 493H216V494H212zM217 494H221V495H217zM222 494H226V498H222zM237 486H241V488H237zM242 488H246V499H242zM256 498H260V503H256zM261 498H265V499H261zM266 500H270V508H266zM281 497H285V499H281zM285 498H289V499H285zM290 496H294V498H290zM300 484H304V488H300zM305 490H309V491H305zM310 489H314V499H310zM329 482H333V484H329zM334 485H338V493H334zM339 492H343V509H339zM344 508H348V509H344zM349 508H353V509H349zM359 499H363V500H359zM378 487H382V488H378zM383 484H387V486H383zM402 472H406V473H402zM407 474H411V480H407zM412 480H416V481H412zM417 481H421V485H417zM422 485H426V492H422zM427 491H431V492H427zM436 484H440V485H436zM441 486H445V487H441zM466 462H470V478H466zM475 447H479V453H475zM480 447H484V449H480zM485 448H489V451H485zM490 447H494V452H490zM495 439H499V440H495zM510 447H514V453H510zM514 451H518V453H514zM519 452H523V453H519zM524 451H528V459H524zM529 428H533V436H529zM534 434H538V442H534zM553 426H557V427H553zM573 405H577V406H573zM578 390H582V397H578zM587 391H591V392H587zM597 385H601V388H597zM612 382H616V383H612zM617 389H621V396H617zM626 396H630V397H626zM636 388H640V389H636zM641 389H645V390H641zM646 393H650V396H646zM656 387H660V389H656zM661 388H665V389H661zM690 360H694V365H690zM699 355H703V359H699zM709 355H713V364H709zM729 355H733V356H729zM738 346H742V347H738zM743 346H747V347H743zM758 345H762V346H758zM773 315H777V326H773zM777 323H781V325H777zM782 310H786V327H782zM787 326H791V336H787zM797 329H801V330H797zM807 319H811V321H807zM816 313H820V314H816zM836 284H840V285H836zM850 277H854V295H850zM860 261H864V262H860zM865 265H869V268H865zM870 263H874V280H870zM875 279H879V285H875zM885 275H889V276H885zM909 246H913V258H909zM919 248H923V254H919zM928 243H932V269H928zM938 277H942V282H938zM943 289H947V298H943zM953 286H957V287H953zM958 304H962V317H958zM963 325H967V359H963zM972 358H976V364H972zM982 318H986V337H982zM987 335H991V344H987zM1006 293H1010V301H1006zM1011 305H1015V307H1011zM1016 293H1020V294H1016zM1040 258H1044V270H1040zM1050 262H1054V263H1050zM1055 262H1059V268H1055zM1060 266H1064V272H1060zM1065 268H1069V269H1065zM1079 235H1083V241H1079zM1084 240H1088V241H1084zM1089 241H1093V247H1089zM1094 244H1098V245H1094zM1109 257H1113V258H1109zM1118 258H1122V270H1118zM1123 265H1127V268H1123zM1128 267H1132V268H1128zM1138 248H1142V252H1138zM1143 251H1147V252H1143zM1148 251H1152V252H1148zM1157 246H1161V250H1157zM1167 238H1171V239H1167zM1172 236H1176V237H1172zM1177 236H1181V251H1177zM1182 252H1186V256H1182zM1201 258H1205V259H1201zM1211 255H1215V269H1211zM1221 274H1225V280H1221zM1230 261H1234V265H1230zM1235 266H1239V267H1235zM1245 261H1249V264H1245zM1250 263H1254V268H1250zM1264 257H1268V259H1264zM1284 214H1288V234H1284zM1289 238H1293V258H1289zM1299 226H1303V242H1299zM1303 240H1307V241H1303zM1308 238H1312V239H1308zM1318 240H1322V247H1318zM1362 194H1366V208H1362zM1372 188H1376V198H1372zM1377 181H1381V182H1377zM1381 176H1385V181H1381zM1411 140H1415V145H1411zM1415 141H1419V142H1415zM1420 143H1424V144H1420zM1435 139H1439V140H1435zM1440 145H1444V146H1440zM1445 148H1449V159H1445zM1450 156H1454V157H1450zM1459 152H1463V156H1459zM1464 156H1468V162H1464zM1469 161H1473V162H1469zM1479 155H1483V169H1479zM1493 125H1497V127H1493zM1518 90H1522V102H1518zM1528 98H1532V99H1528zM1537 95H1541V111H1537zM1557 80H1561V102H1557zM1571 83H1575V102H1571zM1586 90H1590V97H1586zM1596 80H1600V83H1596zM1601 86H1605V100H1601zM1605 98H1609V100H1605zM1610 110H1614V111H1610zM1615 106H1619V131H1615zM1630 122H1634V123H1630zM1635 120H1639V126H1635zM1640 128H1644V135H1640zM1649 128H1653V129H1649zM1669 102H1673V108H1669zM1693 92H1697V101H1693zM1708 63H1712V65H1708zM1713 61H1717V65H1713zM1722 66H1726V78H1722zM1727 74H1731V83H1727zM1732 103H1736V104H1732zM1737 98H1741V106H1737zM1742 93H1746V104H1742zM1752 125H1756V135H1752zM1766 113H1770V114H1766zM1771 114H1775V115H1771zM1776 115H1780V116H1776zM1781 113H1785V114H1781zM1786 112H1790V128H1786zM1791 125H1795V134H1791z" fill="#000"/>
<line x1="41" y1="454" x2="1849" y2="454" stroke="#000" stroke-width="2"/>
<line x1="730" y1="343.5" x2="1849" y2="343.5" stroke="#000" stroke-width="1"/>
<line x1="599" y1="375.5" x2="1849" y2="375.5" stroke="#000" stroke-width="1"/>
<line x1="423" y1="404.5" x2="1849" y2="404.5" stroke="#000" stroke-width="1"/>
<line x1="506" y1="420.5" x2="1849" y2="420.5" stroke="#000" stroke-width="1"/>
<line x1="41" y1="534.5" x2="1849" y2="534.5" stroke="#0000ff" stroke-width="1"/>
<line x1="41" y1="558.5" x2="1849" y2="558.5" stroke="#000" stroke-width="1"/>
<line x1="40" y1="508.5" x2="1849" y2="508.5" stroke="#ff0000" stroke-width="1" stroke-dasharray="3 3"/>
<line x1="1178" y1="169.5" x2="1670" y2="169.5" stroke="#000" stroke-width="1"/>
<line x1="745.0" y1="313.5" x2="964.0" y2="314.5" stroke="#000" stroke-width="1"/>
<line x1="920.0" y1="285.3" x2="1403.0" y2="274.2" stroke="#000" stroke-width="1"/>
<line x1="41.7" y1="539.2" x2="1849.0" y2="403.0" stroke="#008000" stroke-width="2"/>
<line x1="41.7" y1="457.2" x2="463.3" y2="474.2" stroke="#ff0000" stroke-width="2"/>
<line x1="97.5" y1="458.3" x2="345.0" y2="502.0" stroke="#000" stroke-width="1"/>
<line x1="41.7" y1="496.3" x2="162.0" y2="478.7" stroke="#0000ff" stroke-width="2"/>
<line x1="140.0" y1="533.3" x2="550.8" y2="493.3" stroke="#0000ff" stroke-width="2"/>
<line x1="345.0" y1="513.5" x2="1013.9" y2="376.1" stroke="#0000ff" stroke-width="2"/>
<line x1="441.7" y1="493.3" x2="1013.3" y2="300.8" stroke="#000080" stroke-width="2"/>
<line x1="520.8" y1="465.8" x2="988.7" y2="253.7" stroke="#008000" stroke-width="2"/>
<line x1="876" y1="235" x2="1369" y2="235" stroke="#ff0000" stroke-width="2"/>
<line x1="968.2" y1="411.7" x2="1778.7" y2="91.3" stroke="#3cb371" stroke-width="2"/>
<line x1="1450.8" y1="90.5" x2="1805.8" y2="42.5" stroke="#000" stroke-width="1"/>
<line x1="1475.8" y1="172.5" x2="1830.8" y2="123.7" stroke="#000" stroke-width="1"/>
<line x1="1430.8" y1="128.3" x2="1509.2" y2="171.7" stroke="#000" stroke-width="1"/>
<line x1="1329.0" y1="272.5" x2="1645.8" y2="66.7" stroke="#000" stroke-width="1"/>
<rect x="41" y="0" width="1" height="877" fill="#000"/>
<rect x="1849" y="0" width="1" height="877" fill="#000"/>
<rect x="41" y="581" width="1808" height="1" fill="#000"/>
<rect x="41" y="877" width="1809" height="1" fill="#000"/>
<rect x="41" y="890" width="1809" height="1" fill="#000"/>
<path d="M39 2h2v1h-2zM1850 2h3v1h-3zM39 8h2v1h-2zM1850 8h3v1h-3zM39 14h2v1h-2zM1850 14h3v1h-3zM36 20h5v1h-5zM1850 20h6v1h-6zM39 26h2v1h-2zM1850 26h3v1h-3zM39 32h2v1h-2zM1850 32h3v1h-3zM39 38h2v1h-2zM1850 38h3v1h-3zM39 44h2v1h-2zM1850 44h3v1h-3zM36 50h5v1h-5zM1850 50h6v1h-6zM39 56h2v1h-2zM1850 56h3v1h-3zM39 62h2v1h-2zM1850 62h3v1h-3zM39 68h2v1h-2zM1850 68h3v1h-3zM39 74h2v1h-2zM1850 74h3v1h-3zM36 80h5v1h-5zM1850 80h6v1h-6zM39 86h2v1h-2zM1850 86h3v1h-3zM39 91h2v1h-2zM1850 91h3v1h-3zM39 97h2v1h-2zM1850 97h3v1h-3zM39 103h2v1h-2zM1850 103h3v1h-3zM36 109h5v1h-5zM1850 109h6v1h-6zM39 115h2v1h-2zM1850 115h3v1h-3zM39 121h2v1h-2zM1850 121h3v1h-3zM39 127h2v1h-2zM1850 127h3v1h-3zM39 133h2v1h-2zM1850 133h3v1h-3zM36 139h5v1h-5zM1850 139h6v1h-6zM39 145h2v1h-2zM1850 145h3v1h-3zM39 151h2v1h-2zM1850 151h3v1h-3zM39 157h2v1h-2zM1850 157h3v1h-3zM39 163h2v1h-2zM1850 163h3v1h-3zM36 169h5v1h-5zM1850 169h6v1h-6zM39 175h2v1h-2zM1850 175h3v1h-3zM39 181h2v1h-2zM1850 181h3v1h-3zM39 187h2v1h-2zM1850 187h3v1h-3zM39 193h2v1h-2zM1850 193h3v1h-3zM36 199h5v1h-5zM1850 199h6v1h-6zM39 205h2v1h-2zM1850 205h3v1h-3zM39 211h2v1h-2zM1850 211h3v1h-3zM39 217h2v1h-2zM1850 217h3v1h-3zM39 222h2v1h-2zM1850 222h3v1h-3zM36 228h5v1h-5zM1850 228h6v1h-6zM39 234h2v1h-2zM1850 234h3v1h-3zM39 240h2v1h-2zM1850 240h3v1h-3zM39 246h2v1h-2zM1850 246h3v1h-3zM39 252h2v1h-2zM1850 252h3v1h-3zM36 258h5v1h-5zM1850 258h6v1h-6zM39 264h2v1h-2zM1850 264h3v1h-3zM39 270h2v1h-2zM1850 270h3v1h-3zM39 276h2v1h-2zM1850 276h3v1h-3zM39 282h2v1h-2zM1850 282h3v1h-3zM36 288h5v1h-5zM1850 288h6v1h-6zM39 294h2v1h-2zM1850 294h3v1h-3zM39 300h2v1h-2zM1850 300h3v1h-3zM39 306h2v1h-2zM1850 306h3v1h-3zM39 312h2v1h-2zM1850 312h3v1h-3zM36 318h5v1h-5zM1850 318h6v1h-6zM39 324h2v1h-2zM1850 324h3v1h-3zM39 330h2v1h-2zM1850 330h3v1h-3zM39 336h2v1h-2zM1850 336h3v1h-3zM39 342h2v1h-2zM1850 342h3v1h-3zM36 348h5v1h-5zM1850 348h6v1h-6zM39 353h2v1h-2zM1850 353h3v1h-3zM39 359h2v1h-2zM1850 359h3v1h-3zM39 365h2v1h-2zM1850 365h3v1h-3zM39 371h2v1h-2zM1850 371h3v1h-3zM36 377h5v1h-5zM1850 377h6v1h-6zM39 383h2v1h-2zM1850 383h3v1h-3zM39 389h2v1h-2zM1850 389h3v1h-3zM39 395h2v1h-2zM1850 395h3v1h-3zM39 401h2v1h-2zM1850 401h3v1h-3zM36 407h5v1h-5zM1850 407h6v1h-6zM39 413h2v1h-2zM1850 413h3v1h-3zM39 419h2v1h-2zM1850 419h3v1h-3zM39 425h2v1h-2zM1850 425h3v1h-3zM39 431h2v1h-2zM1850 431h3v1h-3zM36 437h5v1h-5zM1850 437h6v1h-6zM39 443h2v1h-2zM1850 443h3v1h-3zM39 449h2v1h-2zM1850 449h3v1h-3zM39 455h2v1h-2zM1850 455h3v1h-3zM39 461h2v1h-2zM1850 461h3v1h-3zM36 467h5v1h-5zM1850 467h6v1h-6zM39 473h2v1h-2zM1850 473h3v1h-3zM39 479h2v1h-2zM1850 479h3v1h-3zM39 484h2v1h-2zM1850 484h3v1h-3zM39 490h2v1h-2zM1850 490h3v1h-3zM36 496h5v1h-5zM1850 496h6v1h-6zM39 502h2v1h-2zM1850 502h3v1h-3zM39 508h2v1h-2zM1850 508h3v1h-3zM39 514h2v1h-2zM1850 514h3v1h-3zM39 520h2v1h-2zM1850 520h3v1h-3zM36 526h5v1h-5zM1850 526h6v1h-6zM39 532h2v1h-2zM1850 532h3v1h-3zM39 538h2v1h-2zM1850 538h3v1h-3zM39 544h2v1h-2zM1850 544h3v1h-3zM39 550h2v1h-2zM1850 550h3v1h-3zM36 556h5v1h-5zM1850 556h6v1h-6zM39 562h2v1h-2zM1850 562h3v1h-3zM39 568h2v1h-2zM1850 568h3v1h-3zM39 871h2v1h-2zM39 868h2v1h-2zM36 866h5v1h-5zM39 863h2v1h-2zM39 860h2v1h-2zM39 857h2v1h-2zM39 854h2v1h-2zM36 851h5v1h-5zM39 848h2v1h-2zM39 845h2v1h-2zM39 842h2v1h-2zM39 839h2v1h-2zM36 836h5v1h-5zM39 833h2v1h-2zM39 830h2v1h-2zM39 827h2v1h-2zM39 824h2v1h-2zM36 822h5v1h-5zM39 819h2v1h-2zM39 816h2v1h-2zM39 813h2v1h-2zM39 810h2v1h-2zM36 807h5v1h-5zM39 804h2v1h-2zM39 801h2v1h-2zM39 798h2v1h-2zM39 795h2v1h-2zM36 792h5v1h-5zM39 789h2v1h-2zM39 786h2v1h-2zM39 783h2v1h-2zM39 781h2v1h-2zM36 778h5v1h-5zM39 775h2v1h-2zM39 772h2v1h-2zM39 769h2v1h-2zM39 766h2v1h-2zM36 763h5v1h-5zM39 760h2v1h-2zM39 757h2v1h-2zM39 754h2v1h-2zM39 751h2v1h-2zM36 748h5v1h-5zM39 745h2v1h-2zM39 742h2v1h-2zM39 739h2v1h-2zM39 737h2v1h-2zM36 734h5v1h-5zM39 731h2v1h-2zM39 728h2v1h-2zM39 725h2v1h-2zM39 722h2v1h-2zM36 719h5v1h-5zM39 716h2v1h-2zM39 713h2v1h-2zM39 710h2v1h-2zM39 707h2v1h-2zM36 704h5v1h-5zM39 701h2v1h-2zM39 698h2v1h-2zM39 695h2v1h-2zM39 693h2v1h-2zM36 690h5v1h-5zM39 687h2v1h-2zM39 684h2v1h-2zM39 681h2v1h-2zM39 678h2v1h-2zM36 675h5v1h-5zM39 672h2v1h-2zM39 669h2v1h-2zM39 666h2v1h-2zM39 663h2v1h-2zM36 660h5v1h-5zM39 657h2v1h-2zM39 654h2v1h-2zM39 652h2v1h-2zM39 649h2v1h-2zM36 646h5v1h-5zM39 643h2v1h-2zM39 640h2v1h-2zM39 637h2v1h-2zM39 634h2v1h-2zM36 631h5v1h-5zM39 628h2v1h-2zM39 625h2v1h-2zM39 622h2v1h-2zM39 619h2v1h-2zM36 616h5v1h-5zM39 613h2v1h-2zM39 610h2v1h-2zM39 608h2v1h-2zM39 605h2v1h-2zM36 602h5v1h-5zM39 599h2v1h-2zM39 596h2v1h-2zM39 593h2v1h-2zM39 590h2v1h-2zM36 587h5v1h-5zM39 584h2v1h-2zM1850 872h3v1h-3zM1850 868h3v1h-3zM1850 863h3v1h-3zM1850 859h3v1h-3zM1850 854h6v1h-6zM1850 850h3v1h-3zM1850 845h3v1h-3zM1850 841h3v1h-3zM1850 837h3v1h-3zM1850 832h6v1h-6zM1850 828h3v1h-3zM1850 823h3v1h-3zM1850 819h3v1h-3zM1850 815h3v1h-3zM1850 810h6v1h-6zM1850 806h3v1h-3zM1850 801h3v1h-3zM1850 797h3v1h-3zM1850 792h3v1h-3zM1850 788h6v1h-6zM1850 784h3v1h-3zM1850 779h3v1h-3zM1850 775h3v1h-3zM1850 770h3v1h-3zM1850 766h6v1h-6zM1850 761h3v1h-3zM1850 757h3v1h-3zM1850 753h3v1h-3zM1850 748h3v1h-3zM1850 744h6v1h-6zM1850 739h3v1h-3zM1850 735h3v1h-3zM1850 731h3v1h-3zM1850 726h3v1h-3zM1850 722h6v1h-6zM1850 717h3v1h-3zM1850 713h3v1h-3zM1850 708h3v1h-3zM1850 704h3v1h-3zM1850 700h6v1h-6zM1850 695h3v1h-3zM1850 691h3v1h-3zM1850 686h3v1h-3zM1850 682h3v1h-3zM1850 678h6v1h-6zM1850 673h3v1h-3zM1850 669h3v1h-3zM1850 664h3v1h-3zM1850 660h3v1h-3zM1850 655h6v1h-6zM1850 651h3v1h-3zM1850 647h3v1h-3zM1850 642h3v1h-3zM1850 638h3v1h-3zM1850 633h6v1h-6zM1850 629h3v1h-3zM1850 624h3v1h-3zM1850 620h3v1h-3zM1850 616h3v1h-3zM1850 611h6v1h-6zM1850 607h3v1h-3zM1850 602h3v1h-3zM1850 598h3v1h-3zM1850 594h3v1h-3zM1850 589h6v1h-6zM1850 585h3v1h-3zM48 877h1v13h-1zM72 877h1v13h-1zM97 877h1v13h-1zM121 877h1v13h-1zM145 877h1v13h-1zM170 877h1v13h-1zM189 877h1v13h-1zM213 877h1v13h-1zM238 877h1v13h-1zM262 877h1v13h-1zM286 877h1v13h-1zM311 877h1v13h-1zM335 877h1v13h-1zM360 877h1v13h-1zM384 877h1v13h-1zM408 877h1v13h-1zM433 877h1v13h-1zM457 877h1v13h-1zM481 877h1v13h-1zM506 877h1v13h-1zM530 877h1v13h-1zM554 877h1v13h-1zM579 877h1v13h-1zM603 877h1v13h-1zM627 877h1v13h-1zM637 877h1v13h-1zM652 877h1v13h-1zM676 877h1v13h-1zM700 877h1v13h-1zM725 877h1v13h-1zM749 877h1v13h-1zM774 877h1v13h-1zM798 877h1v13h-1zM822 877h1v13h-1zM847 877h1v13h-1zM871 877h1v13h-1zM895 877h1v13h-1zM920 877h1v13h-1zM944 877h1v13h-1zM968 877h1v13h-1zM993 877h1v13h-1zM1012 877h1v13h-1zM1032 877h1v13h-1zM1051 877h1v13h-1zM1076 877h1v13h-1zM1100 877h1v13h-1zM1124 877h1v13h-1zM1149 877h1v13h-1zM1173 877h1v13h-1zM1197 877h1v13h-1zM1222 877h1v13h-1zM1246 877h1v13h-1zM1270 877h1v13h-1zM1295 877h1v13h-1zM1319 877h1v13h-1zM1343 877h1v13h-1zM1368 877h1v13h-1zM1392 877h1v13h-1zM1412 877h1v13h-1zM1436 877h1v13h-1zM1460 877h1v13h-1zM1485 877h1v13h-1zM1509 877h1v13h-1zM1533 877h1v13h-1zM1558 877h1v13h-1zM1582 877h1v13h-1zM1606 877h1v13h-1zM1631 877h1v13h-1zM1655 877h1v13h-1zM1679 877h1v13h-1zM1704 877h1v13h-1zM1728 877h1v13h-1zM1753 877h1v13h-1zM1777 877h1v13h-1zM1801 877h1v13h-1zM1826 877h1v13h-1zM135 877h1v25h-1zM238 877h1v25h-1zM340 877h1v25h-1zM452 877h1v25h-1zM554 877h1v25h-1zM642 877h1v25h-1zM749 877h1v25h-1zM847 877h1v25h-1zM949 877h1v25h-1zM1046 877h1v25h-1zM1149 877h1v25h-1zM1251 877h1v25h-1zM1363 877h1v25h-1zM1460 877h1v25h-1zM1567 877h1v25h-1zM1679 877h1v25h-1zM1777 877h1v25h-1z" fill="#000"/>
<rect x="116" y="51" width="435" height="131.5" fill="#ffd700" stroke="#000" stroke-width="2"/>
<rect x="584.5" y="552.5" width="242" height="14" fill="#fff" stroke="#000" stroke-width="1"/>
<path d="M1851.5 877V866.5H1874.5V877" fill="#fff" stroke="#000" stroke-width="1"/>
</g>
<text x="31.5" y="25" font-size="10" text-anchor="end" class="s">14.0</text>
<text x="1887.5" y="25" font-size="10" text-anchor="end" class="s">14.0</text>
<text x="31.5" y="55" font-size="10" text-anchor="end" class="s">13.5</text>
<text x="1887.5" y="55" font-size="10" text-anchor="end" class="s">13.5</text>
<text x="31.5" y="85" font-size="10" text-anchor="end" class="s">13.0</text>
<text x="1887.5" y="85" font-size="10" text-anchor="end" class="s">13.0</text>
<text x="31.5" y="114" font-size="10" text-anchor="end" class="s">12.5</text>
<text x="1887.5" y="114" font-size="10" text-anchor="end" class="s">12.5</text>
<text x="31.5" y="144" font-size="10" text-anchor="end" class="s">12.0</text>
<text x="1887.5" y="144" font-size="10" text-anchor="end" class="s">12.0</text>
<text x="31.5" y="174" font-size="10" text-anchor="end" class="s">11.5</text>
<text x="1887.5" y="174" font-size="10" text-anchor="end" class="s">11.5</text>
<text x="31.5" y="204" font-size="10" text-anchor="end" class="s">11.0</text>
<text x="1887.5" y="204" font-size="10" text-anchor="end" class="s">11.0</text>
<text x="31.5" y="233" font-size="10" text-anchor="end" class="s">10.5</text>
<text x="1887.5" y="233" font-size="10" text-anchor="end" class="s">10.5</text>
<text x="31.5" y="263" font-size="10" text-anchor="end" class="s">10.0</text>
<text x="1887.5" y="263" font-size="10" text-anchor="end" class="s">10.0</text>
<text x="31.5" y="293" font-size="10" text-anchor="end" class="s">9.5</text>
<text x="1887.5" y="293" font-size="10" text-anchor="end" class="s">9.5</text>
<text x="31.5" y="323" font-size="10" text-anchor="end" class="s">9.0</text>
<text x="1887.5" y="323" font-size="10" text-anchor="end" class="s">9.0</text>
<text x="31.5" y="353" font-size="10" text-anchor="end" class="s">8.5</text>
<text x="1887.5" y="353" font-size="10" text-anchor="end" class="s">8.5</text>
<text x="31.5" y="382" font-size="10" text-anchor="end" class="s">8.0</text>
<text x="1887.5" y="382" font-size="10" text-anchor="end" class="s">8.0</text>
<text x="31.5" y="412" font-size="10" text-anchor="end" class="s">7.5</text>
<text x="1887.5" y="412" font-size="10" text-anchor="end" class="s">7.5</text>
<text x="31.5" y="442" font-size="10" text-anchor="end" class="s">7.0</text>
<text x="1887.5" y="442" font-size="10" text-anchor="end" class="s">7.0</text>
<text x="31.5" y="472" font-size="10" text-anchor="end" class="s">6.5</text>
<text x="1887.5" y="472" font-size="10" text-anchor="end" class="s">6.5</text>
<text x="31.5" y="501" font-size="10" text-anchor="end" class="s">6.0</text>
<text x="1887.5" y="501" font-size="10" text-anchor="end" class="s">6.0</text>
<text x="31.5" y="531" font-size="10" text-anchor="end" class="s">5.5</text>
<text x="1887.5" y="531" font-size="10" text-anchor="end" class="s">5.5</text>
<text x="31.5" y="561" font-size="10" text-anchor="end" class="s">5.0</text>
<text x="1887.5" y="561" font-size="10" text-anchor="end" class="s">5.0</text>
<text x="31.5" y="871" font-size="10" text-anchor="end" class="s">5</text>
<text x="31.5" y="856" font-size="10" text-anchor="end" class="s">10</text>
<text x="31.5" y="841" font-size="10" text-anchor="end" class="s">15</text>
<text x="31.5" y="827" font-size="10" text-anchor="end" class="s">20</text>
<text x="31.5" y="812" font-size="10" text-anchor="end" class="s">25</text>
<text x="31.5" y="797" font-size="10" text-anchor="end" class="s">30</text>
<text x="31.5" y="783" font-size="10" text-anchor="end" class="s">35</text>
<text x="31.5" y="768" font-size="10" text-anchor="end" class="s">40</text>
<text x="31.5" y="753" font-size="10" text-anchor="end" class="s">45</text>
<text x="31.5" y="739" font-size="10" text-anchor="end" class="s">50</text>
<text x="31.5" y="724" font-size="10" text-anchor="end" class="s">55</text>
<text x="31.5" y="709" font-size="10" text-anchor="end" class="s">60</text>
<text x="31.5" y="695" font-size="10" text-anchor="end" class="s">65</text>
<text x="31.5" y="680" font-size="10" text-anchor="end" class="s">70</text>
<text x="31.5" y="665" font-size="10" text-anchor="end" class="s">75</text>
<text x="31.5" y="651" font-size="10" text-anchor="end" class="s">80</text>
<text x="31.5" y="636" font-size="10" text-anchor="end" class="s">85</text>
<text x="31.5" y="621" font-size="10" text-anchor="end" class="s">90</text>
<text x="31.5" y="607" font-size="10" text-anchor="end" class="s">95</text>
<text x="31.5" y="592" font-size="10" text-anchor="end" class="s">100</text>
<text x="1887.5" y="859" font-size="10" text-anchor="end" class="s">5000</text>
<text x="1887.5" y="837" font-size="10" text-anchor="end" class="s">10000</text>
<text x="1887.5" y="815" font-size="10" text-anchor="end" class="s">15000</text>
<text x="1887.5" y="793" font-size="10" text-anchor="end" class="s">20000</text>
<text x="1887.5" y="771" font-size="10" text-anchor="end" class="s">25000</text>
<text x="1887.5" y="749" font-size="10" text-anchor="end" class="s">30000</text>
<text x="1887.5" y="727" font-size="10" text-anchor="end" class="s">35000</text>
<text x="1887.5" y="705" font-size="10" text-anchor="end" class="s">40000</text>
<text x="1887.5" y="683" font-size="10" text-anchor="end" class="s">45000</text>
<text x="1887.5" y="660" font-size="10" text-anchor="end" class="s">50000</text>
<text x="1887.5" y="638" font-size="10" text-anchor="end" class="s">55000</text>
<text x="1887.5" y="616" font-size="10" text-anchor="end" class="s">60000</text>
<text x="1887.5" y="594" font-size="10" text-anchor="end" class="s">65000</text>
<text x="50" y="887" font-size="10" text-anchor="start" class="s">8</text>
<text x="74" y="887" font-size="10" text-anchor="start" class="s">15</text>
<text x="99" y="887" font-size="10" text-anchor="start" class="s">22</text>
<text x="123" y="887" font-size="10" text-anchor="start" class="s">29</text>
<text x="147" y="887" font-size="10" text-anchor="start" class="s">5</text>
<text x="172" y="887" font-size="10" text-anchor="start" class="s">12</text>
<text x="191" y="887" font-size="10" text-anchor="start" class="s">19</text>
<text x="215" y="887" font-size="10" text-anchor="start" class="s">26</text>
<text x="240" y="887" font-size="10" text-anchor="start" class="s">2</text>
<text x="264" y="887" font-size="10" text-anchor="start" class="s">9</text>
<text x="288" y="887" font-size="10" text-anchor="start" class="s">16</text>
<text x="313" y="887" font-size="10" text-anchor="start" class="s">23</text>
<text x="337" y="887" font-size="10" text-anchor="start" class="s">30</text>
<text x="362" y="887" font-size="10" text-anchor="start" class="s">7</text>
<text x="386" y="887" font-size="10" text-anchor="start" class="s">14</text>
<text x="410" y="887" font-size="10" text-anchor="start" class="s">21</text>
<text x="435" y="887" font-size="10" text-anchor="start" class="s">28</text>
<text x="459" y="887" font-size="10" text-anchor="start" class="s">4</text>
<text x="483" y="887" font-size="10" text-anchor="start" class="s">11</text>
<text x="508" y="887" font-size="10" text-anchor="start" class="s">18</text>
<text x="532" y="887" font-size="10" text-anchor="start" class="s">25</text>
<text x="556" y="887" font-size="10" text-anchor="start" class="s">2</text>
<text x="581" y="887" font-size="10" text-anchor="start" class="s">9</text>
<text x="605" y="887" font-size="10" text-anchor="start" class="s">16</text>
<text x="629" y="887" font-size="10" text-anchor="start" class="s">23</text>
<text x="654" y="887" font-size="10" text-anchor="start" class="s">6</text>
<text x="678" y="887" font-size="10" text-anchor="start" class="s">13</text>
<text x="702" y="887" font-size="10" text-anchor="start" class="s">20</text>
<text x="727" y="887" font-size="10" text-anchor="start" class="s">27</text>
<text x="751" y="887" font-size="10" text-anchor="start" class="s">3</text>
<text x="776" y="887" font-size="10" text-anchor="start" class="s">10</text>
<text x="800" y="887" font-size="10" text-anchor="start" class="s">17</text>
<text x="824" y="887" font-size="10" text-anchor="start" class="s">24</text>
<text x="849" y="887" font-size="10" text-anchor="start" class="s">3</text>
<text x="873" y="887" font-size="10" text-anchor="start" class="s">10</text>
<text x="897" y="887" font-size="10" text-anchor="start" class="s">17</text>
<text x="922" y="887" font-size="10" text-anchor="start" class="s">24</text>
<text x="946" y="887" font-size="10" text-anchor="start" class="s">31</text>
<text x="970" y="887" font-size="10" text-anchor="start" class="s">7</text>
<text x="995" y="887" font-size="10" text-anchor="start" class="s">14</text>
<text x="1014" y="887" font-size="10" text-anchor="start" class="s">22</text>
<text x="1034" y="887" font-size="10" text-anchor="start" class="s">28</text>
<text x="1053" y="887" font-size="10" text-anchor="start" class="s">5</text>
<text x="1078" y="887" font-size="10" text-anchor="start" class="s">12</text>
<text x="1102" y="887" font-size="10" text-anchor="start" class="s">19</text>
<text x="1126" y="887" font-size="10" text-anchor="start" class="s">26</text>
<text x="1151" y="887" font-size="10" text-anchor="start" class="s">2</text>
<text x="1175" y="887" font-size="10" text-anchor="start" class="s">9</text>
<text x="1199" y="887" font-size="10" text-anchor="start" class="s">16</text>
<text x="1224" y="887" font-size="10" text-anchor="start" class="s">23</text>
<text x="1248" y="887" font-size="10" text-anchor="start" class="s">30</text>
<text x="1272" y="887" font-size="10" text-anchor="start" class="s">7</text>
<text x="1297" y="887" font-size="10" text-anchor="start" class="s">14</text>
<text x="1321" y="887" font-size="10" text-anchor="start" class="s">21</text>
<text x="1345" y="887" font-size="10" text-anchor="start" class="s">28</text>
<text x="1370" y="887" font-size="10" text-anchor="start" class="s">4</text>
<text x="1394" y="887" font-size="10" text-anchor="start" class="s">11</text>
<text x="1414" y="887" font-size="10" text-anchor="start" class="s">18</text>
<text x="1438" y="887" font-size="10" text-anchor="start" class="s">25</text>
<text x="1462" y="887" font-size="10" text-anchor="start" class="s">1</text>
<text x="1487" y="887" font-size="10" text-anchor="start" class="s">8</text>
<text x="1511" y="887" font-size="10" text-anchor="start" class="s">15</text>
<text x="1535" y="887" font-size="10" text-anchor="start" class="s">22</text>
<text x="1560" y="887" font-size="10" text-anchor="start" class="s">29</text>
<text x="1584" y="887" font-size="10" text-anchor="start" class="s">6</text>
<text x="1608" y="887" font-size="10" text-anchor="start" class="s">13</text>
<text x="1633" y="887" font-size="10" text-anchor="start" class="s">20</text>
<text x="1657" y="887" font-size="10" text-anchor="start" class="s">27</text>
<text x="1681" y="887" font-size="10" text-anchor="start" class="s">3</text>
<text x="1706" y="887" font-size="10" text-anchor="start" class="s">10</text>
<text x="1730" y="887" font-size="10" text-anchor="start" class="s">17</text>
<text x="1755" y="887" font-size="10" text-anchor="start" class="s">24</text>
<text x="1779" y="887" font-size="10" text-anchor="start" class="s">1</text>
<text x="1803" y="887" font-size="10" text-anchor="start" class="s">8</text>
<text x="1828" y="887" font-size="10" text-anchor="start" class="s">15</text>
<text x="137" y="900.5" font-size="10" text-anchor="start" class="s">August</text>
<text x="240" y="900.5" font-size="10" text-anchor="start" class="s">September</text>
<text x="342" y="900.5" font-size="10" text-anchor="start" class="s">October</text>
<text x="454" y="900.5" font-size="10" text-anchor="start" class="s">November</text>
<text x="556" y="900.5" font-size="10" text-anchor="start" class="s">December</text>
<text x="644" y="900.5" font-size="10" text-anchor="start" class="s">2025</text>
<text x="751" y="900.5" font-size="10" text-anchor="start" class="s">February</text>
<text x="849" y="900.5" font-size="10" text-anchor="start" class="s">March</text>
<text x="951" y="900.5" font-size="10" text-anchor="start" class="s">April</text>
<text x="1048" y="900.5" font-size="10" text-anchor="start" class="s">May</text>
<text x="1151" y="900.5" font-size="10" text-anchor="start" class="s">June</text>
<text x="1253" y="900.5" font-size="10" text-anchor="start" class="s">July</text>
<text x="1365" y="900.5" font-size="10" text-anchor="start" class="s">August</text>
<text x="1462" y="900.5" font-size="10" text-anchor="start" class="s">September</text>
<text x="1569" y="900.5" font-size="10" text-anchor="start" class="s">October</text>
<text x="1681" y="900.5" font-size="10" text-anchor="start" class="s">November</text>
<text x="1779" y="900.5" font-size="10" text-anchor="start" class="s">December</text>
<clipPath id="cl"><rect x="42" y="890" width="20" height="12"/></clipPath>
<text x="45.5" y="900.5" font-size="10" text-anchor="end" class="s" clip-path="url(#cl)">July</text>
<rect x="806" y="1" width="277" height="14" fill="#fff"/>
<text x="807.5" y="11.5" font-size="10" text-anchor="start" class="s" textLength="275.5" lengthAdjust="spacingAndGlyphs">BANCO BPM (12.2500, 12.2550, 12.0150, 12.0850, -0.11500)</text>
<text x="1852.3" y="874.3" font-size="7.3" text-anchor="start" textLength="20.5" lengthAdjust="spacingAndGlyphs" fill="#5a5a78">x1000</text>
<text x="586.8" y="562.7" font-size="10.4" text-anchor="start" font-weight="bold" textLength="237" lengthAdjust="spacingAndGlyphs" stroke="#000" stroke-width="0.5">COPYRIGHT@ LABORSADEIPICCOLI.COM</text>
<text x="118.2" y="65.6" font-size="15.7" text-anchor="start" font-weight="bold" textLength="296.7" lengthAdjust="spacingAndGlyphs">BPM debole sui 12,085 in black candle.</text>
<text x="118.2" y="84.5" font-size="15.7" text-anchor="start" font-weight="bold" textLength="410.7" lengthAdjust="spacingAndGlyphs">Forza il primo supporto , fa i 12,015 e prova a salvarsi.</text>
<text x="118.2" y="103.4" font-size="15.7" text-anchor="start" font-weight="bold" textLength="432.3" lengthAdjust="spacingAndGlyphs">Male sotto i 12 euro nel pomeriggio con apertura di spazi</text>
<text x="118.2" y="122.3" font-size="15.7" text-anchor="start" font-weight="bold" textLength="271.7" lengthAdjust="spacingAndGlyphs">per puntare l'area 11,5 in quel caso.</text>
<text x="118.2" y="141.2" font-size="15.7" text-anchor="start" font-weight="bold" textLength="415.7" lengthAdjust="spacingAndGlyphs">Bene se dovesse tornare su coi volumi nel pomeriggio</text>
<text x="118.2" y="160.1" font-size="15.7" text-anchor="start" font-weight="bold" textLength="414.0" lengthAdjust="spacingAndGlyphs">sulla tenuta del canale. Per ora non ci sono indicazioni</text>
<text x="118.2" y="179.0" font-size="15.7" text-anchor="start" font-weight="bold" textLength="127.3" lengthAdjust="spacingAndGlyphs">in questo senso.</text>
</svg></body></html>
